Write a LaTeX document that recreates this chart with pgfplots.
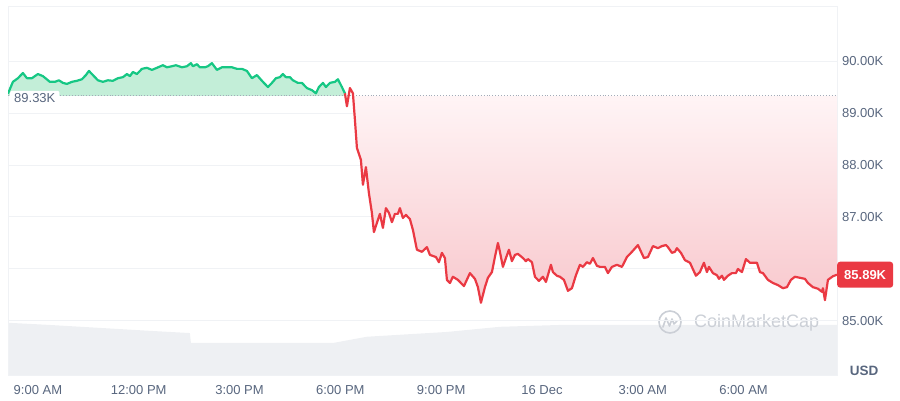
\documentclass[border=0pt]{standalone}
\usepackage{pgfplots}
\pgfplotsset{compat=1.18}
\usepackage{pgfplotstable}
\usepackage{fontspec}
\setmainfont{Liberation Sans}
\definecolor{cmcgreen}{HTML}{16C784}
\definecolor{cmcred}{HTML}{EA3943}
\definecolor{cmcgray}{HTML}{58667E}
\definecolor{gridc}{HTML}{F0F2F5}
\definecolor{volc}{HTML}{EEF0F3}
\definecolor{greenfill}{HTML}{C3EED8}
\definecolor{redtop}{HTML}{FFF5F6}
\definecolor{redbot}{HTML}{F8C8CD}
\definecolor{wm}{HTML}{CBCFD6}

\pgfplotstableread{
h v
-0.893 89.37
-0.744 89.60
-0.595 89.67
-0.446 89.77
-0.327 89.67
-0.179 89.67
0.000 89.75
0.149 89.71
0.357 89.60
0.506 89.60
0.625 89.63
0.744 89.58
0.863 89.56
1.012 89.60
1.161 89.62
1.309 89.65
1.428 89.73
1.518 89.81
1.637 89.73
1.786 89.63
1.934 89.60
2.083 89.63
2.232 89.62
2.381 89.67
2.530 89.69
2.649 89.75
2.738 89.71
2.827 89.79
2.946 89.75
3.095 89.85
3.244 89.87
3.393 89.83
3.541 89.87
3.720 89.92
3.839 89.88
3.988 89.90
4.107 89.92
4.285 89.88
4.434 89.90
4.553 89.96
4.613 89.90
4.732 89.94
4.821 89.88
4.970 89.88
5.059 89.90
5.178 89.96
5.327 89.83
5.476 89.88
5.624 89.88
5.773 89.88
5.922 89.85
6.071 89.85
6.220 89.81
6.369 89.67
6.517 89.73
6.696 89.60
6.845 89.50
6.964 89.58
7.083 89.67
7.202 89.69
7.291 89.75
7.380 89.69
7.499 89.69
7.589 89.63
7.738 89.58
7.857 89.58
8.005 89.48
8.154 89.44
8.273 89.38
8.363 89.50
8.482 89.58
8.571 89.50
8.690 89.58
8.839 89.60
8.928 89.65
9.047 89.50
9.136 89.38
9.196 89.13
9.285 89.48
9.374 89.38
9.434 88.87
9.493 88.33
9.612 88.10
9.672 87.62
9.761 87.96
9.850 87.46
9.939 87.08
9.999 86.71
10.178 87.06
10.267 86.79
10.356 87.17
10.446 87.08
10.535 86.90
10.624 87.06
10.713 87.06
10.773 87.17
10.862 86.98
10.951 87.04
11.070 86.96
11.160 86.75
11.279 86.37
11.428 86.33
11.577 86.42
11.666 86.27
11.845 86.23
11.934 86.13
12.023 86.31
12.112 86.21
12.172 85.79
12.261 85.73
12.350 85.85
12.499 85.79
12.678 85.67
12.856 85.92
13.005 85.81
13.094 85.65
13.184 85.35
13.303 85.65
13.392 85.83
13.511 85.94
13.600 86.23
13.690 86.50
13.749 86.33
13.838 86.04
13.928 86.21
14.017 86.37
14.106 86.15
14.195 86.27
14.285 86.29
14.434 86.21
14.523 86.15
14.582 86.19
14.701 86.13
14.791 85.85
14.910 85.77
15.029 85.85
15.118 85.75
15.267 86.08
15.326 85.94
15.445 85.87
15.535 85.85
15.654 85.79
15.773 85.58
15.892 85.63
16.011 85.88
16.130 86.08
16.219 86.04
16.338 86.13
16.428 86.10
16.517 86.21
16.636 86.06
16.725 86.04
16.874 86.04
16.963 85.92
17.082 86.04
17.231 86.08
17.380 86.04
17.529 86.23
17.678 86.33
17.856 86.46
18.035 86.21
18.154 86.23
18.303 86.44
18.451 86.40
18.570 86.44
18.689 86.46
18.749 86.42
18.868 86.31
18.957 86.33
19.016 86.40
19.136 86.31
19.255 86.17
19.404 86.12
19.582 85.87
19.701 85.94
19.820 86.12
19.909 85.94
19.969 86.04
20.088 85.92
20.207 85.88
20.267 85.81
20.356 85.87
20.415 85.79
20.534 85.87
20.653 85.92
20.772 85.92
20.832 86.00
20.951 85.94
21.070 86.19
21.189 86.12
21.397 86.12
21.487 85.94
21.576 85.92
21.725 85.79
21.874 85.73
22.022 85.69
22.171 85.63
22.290 85.65
22.409 85.79
22.528 85.85
22.677 85.83
22.826 85.81
22.915 85.73
23.064 85.65
23.213 85.62
23.332 85.56
23.362 85.63
23.421 85.40
23.510 85.79
23.659 85.86
23.780 85.89
}\price

\pgfplotstableread{
h vol
-0.893 14.2
0.357 13.6
3.333 12.0
4.523 11.4
4.553 8.7
8.780 8.7
9.791 10.4
12.172 11.7
13.749 13.1
15.535 13.6
23.780 13.6
}\volume

\begin{document}
\begin{tikzpicture}
\useasboundingbox (0,0) rectangle (900pt,400pt);

% volume (background)
\begin{axis}[
  at={(8pt,25pt)}, anchor=south west,
  width=829pt, height=368pt, scale only axis,
  xmin=-0.89, xmax=23.78, ymin=0, ymax=100,
  hide axis,
]
\addplot[fill=volc, draw=none] table[x=h, y=vol] {\volume} \closedcycle;
\end{axis}

% watermark
\node[circle, draw=wm, line width=1.6pt, minimum size=22pt, inner sep=0pt] (logo) at (670pt,78pt) {};
\draw[wm, line width=1.6pt, line cap=round, line join=round]
  (663pt,73pt) -- (666pt,82pt) -- (669.5pt,74pt) -- (672pt,81pt) -- (674pt,76pt) -- (677pt,79pt);
\node[anchor=west, text=wm, font=\fontsize{18}{20}\selectfont, inner sep=0pt] at (694pt,77pt) {CoinMarketCap};

% price
\begin{axis}[
  at={(8pt,25pt)}, anchor=south west,
  width=829pt, height=368pt, scale only axis,
  xmin=-0.89, xmax=23.78, ymin=83.96, ymax=91.04,
  axis line style={draw=gridc, line width=1pt},
  ytick={85,86,87,88,89,90},
  yticklabels={85.00K,,87.00K,88.00K,89.00K,90.00K},
  yticklabel pos=right,
  yticklabel style={anchor=west, xshift=1.5pt},
  xtick={0,3,6,9,12,15,18,21},
  xticklabels={9:00 AM,12:00 PM,3:00 PM,6:00 PM,9:00 PM,16 Dec,3:00 AM,6:00 AM},
  xticklabel style={yshift=-7pt},
  major tick length=0pt,
  tick style={draw=none},
  ymajorgrids, grid style={draw=gridc, line width=1pt},
  tick label style={font=\fontsize{13}{15}\selectfont, text=cmcgray},
  clip mode=individual,
]
% green area above the 89.33K reference
\addplot[draw=none, fill=greenfill, restrict x to domain=-2:9.14]
  table[x=h, y=v] {\price} -- (axis cs:9.136,89.33) -- (axis cs:-0.893,89.33) -- cycle;
% red area below the reference
\addplot[draw=none, top color=redtop, bottom color=redbot, restrict x to domain=9.37:25]
  table[x=h, y=v] {\price} -- (axis cs:23.78,89.33) -- (axis cs:9.374,89.33) -- cycle;

\addplot[cmcgray!55, dotted, line width=0.9pt] coordinates {(-0.89,89.33) (23.78,89.33)};

\addplot[cmcgreen, line width=2.2pt, line join=round, restrict x to domain=-2:9.14] table[x=h, y=v] {\price};
\addplot[cmcred, line width=2.2pt, line join=round, restrict x to domain=9.13:25] table[x=h, y=v] {\price};

\node[anchor=west, fill=white, rounded corners=2pt, text=cmcgray, inner xsep=4pt, inner ysep=3pt,
  xshift=2pt, yshift=-1pt, font=\fontsize{13}{15}\selectfont] at (axis cs:-0.89,89.30) {89.33K};

\node[anchor=west, fill=cmcred, rounded corners=3pt, text=white, inner xsep=7pt,
  minimum height=26pt, font=\bfseries\fontsize{13}{15}\selectfont] at (axis cs:23.78,85.89) {85.89K};
\end{axis}

\node[text=cmcgray, font=\bfseries\fontsize{13.5}{15}\selectfont] at (864pt,29pt) {USD};
\end{tikzpicture}
\end{document}
